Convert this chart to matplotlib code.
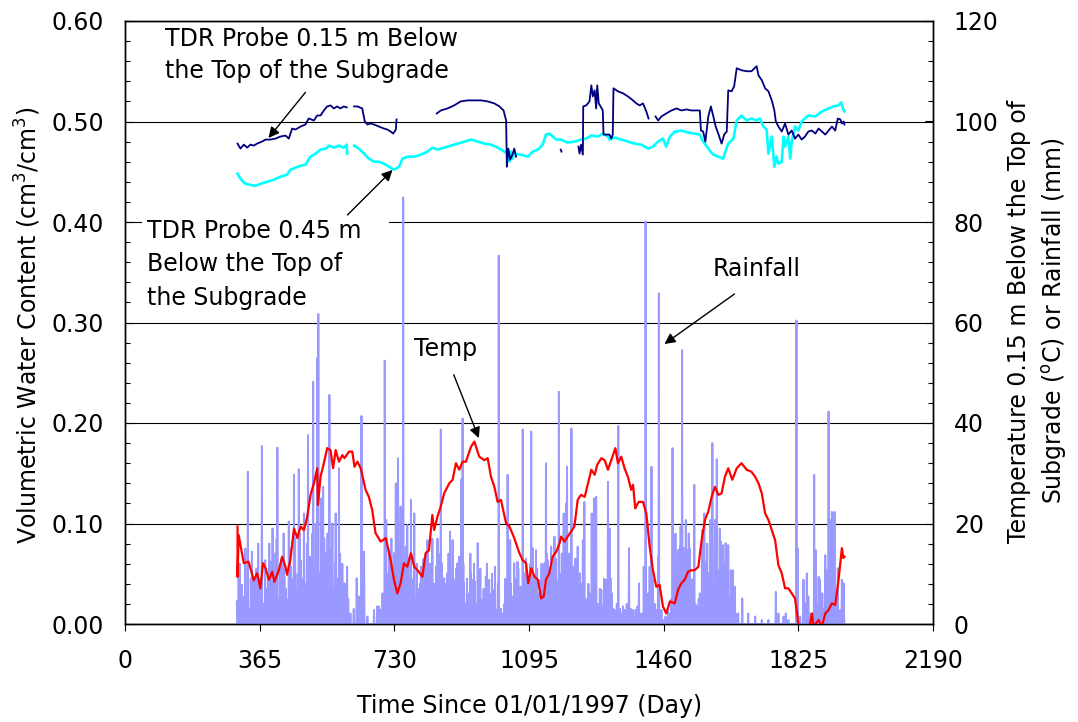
import numpy as np
import matplotlib
matplotlib.use('Agg')
import matplotlib.pyplot as plt
from matplotlib.patches import Rectangle
from matplotlib.ticker import MultipleLocator, FormatStrFormatter

nan = np.nan

# ---------------- data ----------------
x_ticks = [0, 365, 730, 1095, 1460, 1825, 2190]

tdr15_day = [305, 313, 322, 331, 340, 349, 358, 371, 381, 394, 408, 421, 435, 444, 453, 462, 476, 489, 498, 512,
             521, 530, 539, 548, 557, 566, 575, 584, 593, 601,
             nan,
             621, 630, 643, 650, 657, 666, 675, 688, 702, 711, 720, 727, 734, 736,
             nan,
             845, 856, 874, 892, 910, 929, 947, 965, 983, 1001, 1015, 1026, 1033, 1035, 1039, 1044, 1051, 1055, 1060,
             nan,
             1181, 1183,
             nan,
             1229, 1232, 1236, 1241, 1242, 1250, 1259, 1264, 1268, 1273, 1277, 1280, 1284, 1289, 1295, 1297, 1313, 1318,
             1322, 1324, 1336, 1350, 1363, 1377, 1386, 1395, 1404, 1413, 1419,
             nan,
             1438, 1445, 1454, 1467, 1481, 1495, 1508, 1522, 1535, 1549, 1558, 1561, 1567, 1573, 1581, 1588, 1594, 1601,
             1608, 1617, 1624, 1631, 1635, 1644, 1651, 1658, 1671, 1685, 1698, 1712, 1717, 1726, 1735, 1744, 1753, 1760,
             1764, 1771, 1780, 1789, 1798, 1807, 1816, 1825, 1834, 1843, 1852, 1862, 1871, 1880, 1889, 1898, 1907, 1916,
             1925, 1932, 1939, 1943, 1948, 1950]
tdr15_vwc = [0.478, 0.473, 0.477, 0.474, 0.477, 0.476, 0.478, 0.480, 0.482, 0.482, 0.483, 0.485, 0.486, 0.483, 0.493,
             0.492, 0.495, 0.497, 0.503, 0.501, 0.506, 0.506, 0.511, 0.515, 0.516, 0.513, 0.515, 0.513, 0.515, 0.514,
             nan,
             0.515, 0.515, 0.513, 0.500, 0.497, 0.498, 0.497, 0.495, 0.493, 0.492, 0.490, 0.488, 0.492, 0.502,
             nan,
             0.508, 0.511, 0.513, 0.516, 0.520, 0.521, 0.521, 0.521, 0.520, 0.518, 0.515, 0.511, 0.501, 0.455, 0.473,
             0.462, 0.468, 0.473, 0.465,
             nan,
             0.472, 0.470,
             nan,
             0.475, 0.468, 0.477, 0.467, 0.515, 0.516, 0.520, 0.536, 0.525, 0.531, 0.513, 0.536, 0.518, 0.515, 0.511,
             0.487, 0.487, 0.483, 0.487, 0.533, 0.530, 0.528, 0.525, 0.521, 0.518, 0.516, 0.518, 0.510, 0.503,
             nan,
             0.505, 0.501, 0.505, 0.508, 0.511, 0.513, 0.511, 0.512, 0.511, 0.511, 0.511, 0.491, 0.490, 0.480, 0.505,
             0.515, 0.506, 0.495, 0.488, 0.478, 0.487, 0.490, 0.531, 0.530, 0.535, 0.553, 0.551, 0.550, 0.550, 0.555,
             0.546, 0.541, 0.533, 0.530, 0.521, 0.511, 0.500, 0.495, 0.490, 0.498, 0.487, 0.491, 0.483, 0.487, 0.482,
             0.485, 0.490, 0.491, 0.488, 0.493, 0.490, 0.487, 0.491, 0.495, 0.491, 0.503, 0.502, 0.498, 0.500, 0.497]

tdr45_day = [305, 313, 326, 340, 353, 367, 385, 403, 421, 439, 448, 462, 476, 489, 503, 516, 530, 544, 553, 566,
             580, 593, 601, 602,
             nan,
             621, 634, 648, 661, 675, 688, 702, 716, 729, 743, 752, 766, 784, 802, 820, 833, 847, 865, 883, 901,
             920, 938, 956, 974, 992, 1010, 1024, 1037, 1042, 1046, 1050, 1055, 1073, 1092, 1105, 1119, 1132, 1141,
             1150, 1160, 1169, 1182, 1200, 1218, 1236, 1250, 1264, 1282, 1295, 1309, 1313, 1327, 1345, 1363, 1381,
             1399, 1418, 1431, 1445, 1458, 1467, 1477, 1490, 1508, 1526, 1544, 1558, 1567, 1581, 1594, 1608, 1621,
             1635, 1649, 1658, 1671, 1685, 1698, 1712, 1721, 1730, 1739, 1744, 1753, 1760, 1766, 1771, 1780, 1785,
             1789, 1798, 1803, 1807, 1816, 1825, 1834, 1852, 1871, 1889, 1907, 1920, 1934, 1941, 1948, 1950]
tdr45_vwc = [0.448, 0.443, 0.438, 0.437, 0.436, 0.438, 0.440, 0.442, 0.445, 0.447, 0.452, 0.454, 0.456, 0.457, 0.465,
             0.468, 0.472, 0.473, 0.476, 0.474, 0.476, 0.474, 0.477, 0.468,
             nan,
             0.476, 0.473, 0.468, 0.463, 0.460, 0.460, 0.458, 0.455, 0.452, 0.455, 0.463, 0.465, 0.465, 0.467, 0.470,
             0.474, 0.472, 0.474, 0.476, 0.478, 0.480, 0.482, 0.480, 0.478, 0.477, 0.474, 0.471, 0.468, 0.460, 0.470,
             0.463, 0.468, 0.467, 0.465, 0.470, 0.472, 0.477, 0.487, 0.488, 0.485, 0.482, 0.482, 0.479, 0.480, 0.482,
             0.483, 0.486, 0.485, 0.488, 0.485, 0.482, 0.484, 0.482, 0.480, 0.478, 0.477, 0.473, 0.475, 0.480, 0.483,
             0.475, 0.485, 0.490, 0.491, 0.489, 0.488, 0.487, 0.480, 0.473, 0.467, 0.465, 0.463, 0.478, 0.483, 0.501,
             0.506, 0.501, 0.503, 0.501, 0.503, 0.495, 0.492, 0.468, 0.485, 0.455, 0.465, 0.458, 0.460, 0.485, 0.475,
             0.485, 0.463, 0.480, 0.495, 0.491, 0.500, 0.506, 0.505, 0.510, 0.513, 0.515, 0.516, 0.519, 0.511, 0.510]

temp_day = [305, 305, 308, 322, 335, 349, 358, 367, 374, 381, 390, 399, 405, 417, 426, 435, 439, 448, 458, 467,
            476, 485, 494, 503, 512, 521, 523, 530, 539, 548, 557, 564, 571, 580, 589, 595, 607, 616, 622, 630,
            639, 652, 661, 670, 679, 693, 707, 720, 729, 738, 747, 756, 765, 775, 784, 793, 806, 815, 824, 833,
            838, 847, 856, 865, 879, 888, 897, 906, 915, 924, 938, 947, 960, 974, 983, 992, 1001, 1010, 1019, 1033,
            1042, 1055, 1069, 1078, 1087, 1093, 1101, 1110, 1119, 1128, 1135, 1141, 1150, 1159, 1169, 1178,
            1182, 1191, 1200, 1209, 1218, 1227, 1236, 1246, 1255, 1264, 1273, 1280, 1291, 1300, 1309, 1318, 1329,
            1336, 1345, 1354, 1363, 1372, 1377, 1383, 1392, 1404, 1413, 1422, 1431, 1440, 1449, 1458, 1467, 1477,
            1490, 1499, 1508, 1517, 1526, 1535, 1544, 1554, 1563, 1572, 1581, 1590, 1599, 1608, 1617, 1626, 1635,
            1646, 1658, 1671, 1685, 1698, 1708, 1717, 1726, 1735, 1744, 1753, 1762, 1771, 1780, 1789, 1798, 1807,
            1816, 1825, 1834, 1843, 1852, 1862, 1866, 1880, 1889, 1898, 1907, 1916, 1925, 1934, 1943, 1947, 1950]
temp_c = [19.4, 9.4, 17.7, 12.1, 12.4, 8.7, 10.1, 7.1, 12.1, 11.1, 8.8, 10.4, 8.4, 10.7, 13.4, 11.4, 9.8, 12.7, 19.0,
          17.1, 19.4, 18.7, 21.4, 25.7, 28.0, 31.0, 23.7, 29.3, 32.0, 35.0, 34.6, 31.0, 34.6, 32.3, 33.6, 33.0, 34.3,
          34.3, 31.3, 32.3, 31.0, 26.7, 25.3, 22.7, 18.1, 16.4, 17.1, 12.7, 8.8, 6.1, 8.1, 12.1, 11.4, 14.1, 11.4,
          10.7, 9.4, 14.1, 14.7, 21.7, 18.7, 21.4, 23.4, 26.0, 28.0, 28.7, 32.0, 30.7, 32.3, 32.3, 35.3, 36.3, 33.3,
          32.6, 33.0, 29.3, 27.3, 24.3, 24.7, 20.0, 19.4, 17.1, 14.1, 12.7, 12.1, 8.1, 11.1, 9.4, 8.8, 5.1, 5.5, 8.8,
          10.1, 13.4, 14.4, 16.1,
          17.4, 16.4, 17.4, 18.4, 19.4, 24.7, 25.7, 25.3, 28.0, 30.7, 29.7, 31.7, 33.0, 32.6, 30.7, 32.6, 35.0, 32.0,
          33.3, 31.0, 29.3, 26.7, 27.7, 23.0, 24.3, 24.3, 22.0, 15.4, 10.7, 7.4, 7.8, 3.5, 2.1, 4.5, 4.1, 6.8, 8.1,
          8.8, 10.4, 10.7, 10.7, 11.4, 16.7, 20.7, 22.4, 25.3, 27.3, 25.7, 26.0, 29.3, 31.0, 28.7, 31.0, 32.0, 30.7,
          30.3, 29.3, 28.0, 26.0, 22.0, 20.7, 18.7, 16.7, 11.7, 10.1, 7.1, 7.1, 6.1, 5.1, 0.1, -1.9, -1.9, -1.9, 2.1,
          -0.5, 0.8, -0.5, 2.1, 2.8, 4.1, 3.8, 8.8, 15.1, 13.1, 13.4]

rain_day = [303, 308, 317, 322, 333, 338, 344, 349, 353, 358, 364, 371, 376, 380, 388, 394, 400, 408, 413, 417,
            421, 427, 432, 439, 444, 450, 458, 465, 471, 476, 480, 485, 490, 496, 501, 505, 510, 514, 521, 524,
            528, 532, 537, 542, 546, 554, 557, 562, 566, 571, 575, 580, 586, 592, 595, 602, 611, 620, 628, 634,
            641, 648, 657, 675, 684, 688, 693, 698, 704, 708, 716, 720, 725, 729, 734, 740, 744, 747, 754, 761,
            765, 770, 775, 779, 784, 788, 793, 797, 802, 806, 811, 815, 820, 824, 829, 833, 838, 843, 847, 852,
            856, 861, 865, 870, 874, 881, 888, 892, 895, 901, 906, 909, 912, 915, 919, 924, 929, 933, 938, 944,
            948, 952, 956, 960, 965, 969, 974, 978, 983, 987, 992, 997, 1003, 1008, 1013, 1019, 1024, 1028, 1033,
            1037, 1041, 1044, 1048, 1051, 1055, 1060, 1064, 1068, 1072, 1075, 1078, 1081, 1084, 1090, 1096, 1101,
            1105, 1110, 1114, 1119, 1122, 1126, 1132, 1137, 1141, 1146, 1150, 1155, 1160, 1164, 1169, 1173, 1176,
            1182, 1187, 1189, 1196, 1198, 1200, 1205, 1210, 1214, 1218, 1223, 1227, 1232, 1236, 1241, 1245, 1249,
            1253, 1259, 1262, 1265, 1271, 1274, 1277, 1282, 1284, 1291, 1295, 1303, 1309, 1314, 1320, 1323, 1327,
            1333, 1337, 1342, 1345, 1350, 1354, 1360, 1366, 1371, 1377, 1384, 1389, 1393, 1400, 1406, 1411, 1414,
            1418, 1422, 1427, 1431, 1436, 1440, 1445, 1447, 1454, 1458, 1465, 1472, 1477, 1481, 1484, 1487, 1490,
            1495, 1499, 1504, 1506, 1510, 1513, 1515, 1520, 1524, 1526, 1531, 1534, 1537, 1543, 1546, 1549, 1553,
            1558, 1561, 1564, 1570, 1573, 1576, 1581, 1584, 1587, 1592, 1596, 1599, 1604, 1607, 1610, 1615, 1619,
            1621, 1624, 1628, 1631, 1635, 1639, 1642, 1647, 1650, 1653, 1658, 1662, 1673, 1689, 1708, 1726, 1744,
            1764, 1771, 1785, 1791, 1798, 1820, 1823, 1830, 1839, 1843, 1848, 1852, 1857, 1863, 1868, 1872, 1876,
            1880, 1884, 1890, 1894, 1898, 1902, 1907, 1911, 1916, 1920, 1923, 1928, 1932, 1939, 1943, 1948, 1950]
rain_mm = [4.5, 9.4, 7.8, 5.5, 30.3, 3.0, 14.4, 8.8, 3.5, 4.8, 6.1, 35.4, 4.0, 12.7, 10.1, 12.4, 19.0, 14.1, 35.1, 5.0,
           11.4, 8.8, 9.4, 4.8, 20.4, 11.4, 29.7, 6.8, 30.8, 12.7, 6.0, 22.0, 8.0, 37.6, 13.4, 9.0, 48.2, 12.0, 52.9,
           61.7, 10.0, 25.0, 27.3, 8.0, 14.1, 45.6, 10.0, 20.0, 7.0, 22.0, 9.0, 31.0, 8.8, 5.0, 8.1, 11.4, 2.1, 3.0,
           9.1, 5.5, 41.4, 14.4, 1.5, 2.8, 3.5, 3.5, 2.8, 6.1, 52.4, 20.7, 14.7, 6.0, 9.0, 14.1, 28.0, 33.0, 7.0, 23.4,
           84.9, 15.4, 19.7, 8.0, 24.7, 6.0, 22.0, 5.0, 3.5, 7.0, 11.4, 8.8, 5.0, 14.1, 16.7, 6.8, 4.0, 17.0, 8.0,
           11.4, 17.0, 5.0, 38.7, 3.5, 9.1, 5.0, 10.1, 18.4, 16.7, 4.0, 8.8, 12.1, 13.4, 6.0, 28.8, 40.9, 8.1, 4.0,
           6.1, 3.0, 10.1, 8.8, 8.4, 4.0, 16.1, 6.1, 3.0, 4.8, 2.5, 9.4, 3.0, 8.8, 3.5, 6.8, 11.4, 2.8, 73.3, 3.0,
           2.1, 4.0, 6.0, 29.7, 5.0, 16.7, 3.0, 5.5, 12.1, 4.0, 12.4, 5.0, 7.4, 3.0, 38.7, 5.0, 10.1, 6.1, 8.8, 38.3,
           15.1, 5.0, 14.7, 6.1, 3.0, 8.8, 7.4, 12.1, 32.0, 12.7, 6.0, 15.4, 7.0, 17.4, 8.8, 5.0, 46.2, 10.0, 6.0,
           22.0, 24.0, 31.3, 12.1, 6.0, 38.9, 11.4, 11.4, 5.0, 15.4, 10.1, 4.0, 16.7, 24.3, 5.0, 3.5, 6.1, 3.0, 22.0,
           25.0, 6.0, 25.3, 4.0, 3.5, 6.8, 3.5, 8.8, 28.3, 19.0, 6.1, 3.0, 2.8, 4.0, 39.4, 3.0, 2.1, 3.5, 2.8, 4.0,
           15.1, 3.0, 2.8, 2.8, 3.5, 8.1, 2.1, 11.4, 80.1, 4.0, 6.1, 11.4, 31.3, 8.8, 4.0, 2.8, 13.4, 65.8, 2.8, 0.8,
           1.5, 2.8, 2.1, 5.0, 35.0, 6.0, 10.1, 12.1, 14.7, 15.4, 19.4, 54.5, 8.0, 15.1, 20.7, 8.0, 14.7, 15.1, 6.0,
           8.8, 27.7, 4.0, 3.5, 2.1, 6.1, 3.0, 18.7, 22.0, 7.0, 12.4, 10.1, 5.0, 20.7, 36.0, 8.0, 20.7, 32.8, 6.0,
           10.7, 16.4, 5.0, 15.7, 4.0, 16.1, 6.0, 15.7, 5.0, 10.7, 10.7, 3.0, 7.4, 2.0, 2.1, 5.1, 2.1, 1.5, 0.8, 0.8,
           6.4, 2.1, 1.5, 2.1, 0.8, 60.4, 15.1, 1.5, 8.8, 4.0, 10.1, 5.5, 2.1, 2.1, 29.7, 14.7, 4.0, 9.4, 8.8, 6.1,
           3.0, 13.7, 10.7, 42.3, 20.7, 22.3, 22.0, 22.3, 5.0, 11.1, 2.8, 8.8, 8.1, 0.8]

# further moderate rain days in the dense periods
rain_day_b = [311, 326, 329, 341, 356, 361, 367, 384, 391, 397, 404, 411, 424, 430, 436, 447, 454, 461, 468, 474,
              483, 493, 498, 508, 517, 519, 535, 540, 549, 551, 560, 569, 578, 583, 589, 598, 605,
              711, 722, 737, 751, 758, 768, 773, 782, 791, 800, 809, 818, 827, 836, 845, 850, 859, 868, 877, 885,
              898, 904, 917, 927, 936, 941, 946, 958, 963, 972, 981, 990, 995, 1000, 1011, 1031, 1046, 1058, 1066,
              1087, 1093, 1099, 1108, 1117, 1129, 1135, 1143, 1152, 1158, 1167, 1179, 1184, 1193, 1203, 1208, 1216,
              1221, 1230, 1239, 1256, 1268, 1287, 1299, 1306, 1317,
              1492, 1497, 1502, 1508, 1518, 1528, 1540, 1555, 1567, 1578, 1590, 1601, 1612, 1617, 1626, 1633, 1644]
rain_mm_b = [12.0, 15.0, 6.0, 9.0, 11.0, 16.0, 9.0, 7.0, 16.0, 6.0, 9.0, 17.0, 13.0, 18.0, 7.0, 15.0, 9.0, 17.0, 10.0,
             18.0, 9.0, 16.0, 6.0, 18.0, 20.0, 9.0, 13.0, 17.0, 18.0, 7.0, 15.0, 12.0, 6.0, 14.0, 12.0, 7.0, 5.0,
             10.0, 17.0, 12.0, 9.0, 11.0, 13.0, 6.0, 9.0, 12.0, 8.0, 13.0, 9.0, 12.0, 7.0, 9.0, 14.0, 12.0, 8.0, 14.0,
             9.0, 11.0, 7.0, 12.0, 9.0, 14.0, 6.0, 12.0, 9.0, 11.0, 7.0, 12.0, 6.0, 10.0, 5.0, 8.0, 9.0, 8.0, 9.0,
             11.0, 13.0, 9.0, 12.0, 9.0, 11.0, 12.0, 8.0, 14.0, 10.0, 12.0, 13.0, 9.0, 14.0, 11.0, 14.0, 9.0, 8.0,
             13.0, 9.0, 8.0, 8.0, 10.0, 7.0, 9.0, 6.0, 9.0,
             18.0, 9.0, 13.0, 8.0, 11.0, 18.0, 9.0, 5.0, 12.0, 16.0, 9.0, 14.0, 19.0, 9.0, 12.0, 8.0, 9.0]

# daily rainfall series built from the events
rain_days_all = np.arange(303, 1951)
rain_daily = np.zeros(rain_days_all.size)
for d, m in zip(rain_day_b + rain_day, rain_mm_b + rain_mm):
    rain_daily[d - 303] = m

# ---------------- figure ----------------
plt.rcParams['font.family'] = ['DejaVu Sans']
plt.rcParams['mathtext.fontset'] = 'dejavusans'
FS = 17

fig = plt.figure(figsize=(10.78, 7.22), dpi=100)
ax = fig.add_axes([125 / 1078, 1 - 624 / 722, 808 / 1078, 603 / 722])
ax2 = ax.twinx()

ax.set_xlim(0, 2190)
ax.set_ylim(0, 0.6)
ax2.set_ylim(0, 120)

ax.set_yticks(np.arange(0, 0.61, 0.1))
ax.yaxis.set_major_formatter(FormatStrFormatter('%.2f'))
ax.yaxis.set_minor_locator(MultipleLocator(0.02))
ax2.set_yticks(np.arange(0, 121, 20))
ax2.yaxis.set_minor_locator(MultipleLocator(4))
ax.set_xticks(x_ticks)

ax.grid(axis='y', which='major', color='k', lw=0.8)

ax.tick_params(axis='y', which='major', direction='in', length=5.5, width=0.8, labelsize=FS, pad=15)
ax.tick_params(axis='y', which='minor', direction='in', length=3.5, width=0.8)
ax2.tick_params(axis='y', which='major', direction='in', length=5.5, width=0.8, labelsize=FS, pad=15)
ax2.tick_params(axis='y', which='minor', direction='in', length=3.5, width=0.8)
ax.tick_params(axis='x', which='major', direction='out', length=5, width=0.8, labelsize=FS, pad=13)

for a in (ax, ax2):
    for s in a.spines.values():
        s.set_color('black')
        s.set_linewidth(1.0)

# series
ax2.plot(rain_days_all, rain_daily, color='#9999FF', lw=1.4, zorder=1)
ax2.plot(temp_day, temp_c, color='#FF0000', lw=1.6, zorder=3)
ax.plot(tdr45_day, tdr45_vwc, color='#00FFFF', lw=1.9, zorder=3)
ax.plot(tdr15_day, tdr15_vwc, color='#000080', lw=1.3, zorder=4)

# white box behind the lower-left annotation (hides the gridline)
ax.add_patch(Rectangle((46, 0.312), 669, 0.092, facecolor='white', edgecolor='none', zorder=2))

arrow = dict(arrowstyle='-|>', color='black', lw=1.0, mutation_scale=16, shrinkA=0, shrinkB=0)

ax.text(108, 0.594, 'TDR Probe 0.15 m Below\nthe Top of the Subgrade', fontsize=FS, ha='left', va='top',
        linespacing=1.4, zorder=6)
ax.annotate('', xy=(389, 0.4836), xytext=(489, 0.529), arrowprops=arrow, zorder=6)

ax.text(60, 0.403, 'TDR Probe 0.45 m\nBelow the Top of\nthe Subgrade', fontsize=FS, ha='left', va='top',
        linespacing=1.5, zorder=6)
ax.annotate('', xy=(725, 0.4517), xytext=(603, 0.407), arrowprops=arrow, zorder=6)

ax2.annotate('', xy=(959, 0.185 * 200), xytext=(891, 0.248 * 200), arrowprops=arrow, zorder=6)
ax2.text(784, 0.286 * 200, 'Temp', fontsize=FS, ha='left', va='top', zorder=6)

ax2.annotate('', xy=(1462, 0.2786 * 200), xytext=(1652, 0.3284 * 200), arrowprops=arrow, zorder=6)
ax2.text(1593, 0.365 * 200, 'Rainfall', fontsize=FS, ha='left', va='top', zorder=6)

# axis labels
fig.text(28 / 1078, 1 - 325 / 722, 'Volumetric Water Content (cm$^\\mathregular{3}$/cm$^\\mathregular{3}$)',
         rotation=90, ha='center', va='center', fontsize=FS)
fig.text(1038 / 1078, 1 - 321 / 722,
         'Temperature 0.15 m Below the Top of\nSubgrade ($^\\mathregular{o}$C) or Rainfall (mm)',
         rotation=90, ha='center', va='center', multialignment='center', fontsize=FS, linespacing=1.4)
fig.text(530 / 1078, 1 - 706 / 722, 'Time Since 01/01/1997 (Day)', ha='center', va='center', fontsize=FS)

fig.savefig('out.png', dpi=100)
